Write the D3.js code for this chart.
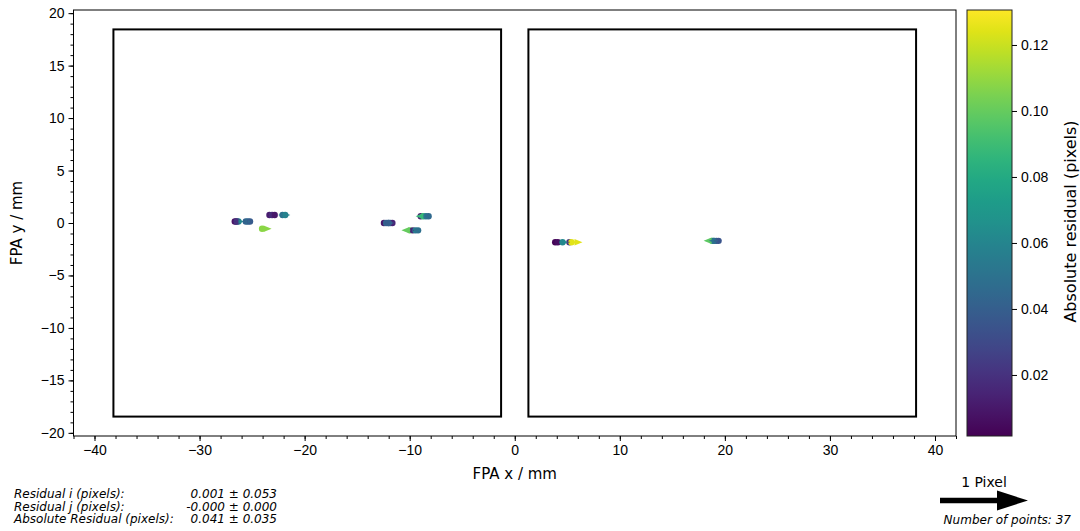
<!DOCTYPE html>
<html>
<head>
<meta charset="utf-8">
<script src="https://cdn.jsdelivr.net/npm/d3@7"></script>
<style>
  body { margin: 0; background: #fff; }
  svg { display: block; font-family: 'DejaVu Sans', sans-serif; }
  .axis text { font-size: 14px; fill: #000; }
  .axis path, .axis line { stroke: #000; }
  .stats text { font-size: 12px; font-style: italic; }
</style>
</head>
<body>
<div id="chart"></div>
<script>
;(function() {
  'use strict';

  // FPA positions (mm) and residuals (pixels) of the 37 matched points
  var pointX = [
    -26.65, -26.5, -26.3, -25.6, -25.4, -25.2, -26.45,
    -23.35, -23.1, -22.85, -22.1, -21.85,
    -24.05,
    -12.45, -12.25, -12.05, -11.85, -11.65, -12.0,
    -8.95, -8.7, -8.45, -8.2,
    -9.95, -9.7, -9.45, -9.2,
    3.85, 4.1, 4.55, 5.2, 5.4,
    18.8, 19.0, 19.2, 19.4, 18.9
  ];
  var pointY = [
    0.14, 0.14, 0.14, 0.14, 0.14, 0.14, 0.14,
    0.76, 0.76, 0.76, 0.76, 0.76,
    -0.55,
    0.0, 0.0, 0.0, 0.0, 0.0, 0.0,
    0.65, 0.65, 0.65, 0.65,
    -0.7, -0.7, -0.7, -0.7,
    -1.83, -1.83, -1.83, -1.83, -1.83,
    -1.7, -1.7, -1.7, -1.7, -1.7
  ];
  var residI = [
    0.008, -0.012, 0.062, -0.042, 0.045, 0.038, -0.02,
    0.012, -0.018, 0.01, -0.05, 0.058,
    0.108,
    -0.01, 0.042, -0.038, 0.045, 0.015, 0.04,
    0.012, -0.088, 0.052, -0.045,
    -0.1, 0.015, 0.055, -0.048,
    0.003, -0.006, 0.062, -0.02, 0.125,
    -0.098, 0.045, -0.04, 0.035, -0.05
  ];
  var residJ = pointX.map(function() { return 0; });

  // detector outlines (mm)
  var chipX0 = [-38.2, 1.3];
  var chipX1 = [-1.3, 38.2];
  var chipY0 = [-18.45, -18.45];
  var chipY1 = [18.45, 18.45];

  var xTicks = [-40, -30, -20, -10, 0, 10, 20, 30, 40];
  var yTicks = [-20, -15, -10, -5, 0, 5, 10, 15, 20];
  var cbTicks = [0.02, 0.04, 0.06, 0.08, 0.10, 0.12];

  var statLabels = ['Residual i (pixels):', 'Residual j (pixels):', 'Absolute Residual (pixels):'];
  var statValues = ['0.001 \u00b1 0.053', '-0.000 \u00b1 0.000', '0.041 \u00b1 0.035'];
  var pointCount = 37;

  var W = 1080, H = 531;
  var plot = { left: 73.5, right: 956, top: 10, bottom: 436 };
  var cb = { left: 967, right: 1012, top: 10, bottom: 436 };
  var pxPerResid = 88; // length of the "1 Pixel" key arrow

  var svg = d3.select('#chart').append('svg')
    .attr('width', W)
    .attr('height', H);

  var x = d3.scaleLinear().domain([-42, 42]).range([plot.left, plot.right]);
  var y = d3.scaleLinear().domain([-20.3, 20.3]).range([plot.bottom, plot.top]);
  var cDomain = [0.0015, 0.1306];
  var color = d3.scaleSequential(d3.interpolateViridis).domain(cDomain);
  var cy = d3.scaleLinear().domain(cDomain).range([cb.bottom, cb.top]);

  /* ------- AXES ------- */
  var xMinor = d3.range(-42, 43, 2);
  var yMinor = d3.range(-20, 21, 1);

  svg.append('g')
    .attr('class', 'axis')
    .attr('transform', 'translate(0,' + plot.bottom + ')')
    .call(d3.axisBottom(x).tickValues(xMinor).tickSize(3).tickFormat(''))
    .call(function(g) { g.select('.domain').remove(); });
  svg.append('g')
    .attr('class', 'axis')
    .attr('transform', 'translate(0,' + plot.bottom + ')')
    .call(d3.axisBottom(x).tickValues(xTicks).tickSize(5).tickPadding(4))
    .call(function(g) { g.select('.domain').remove(); });

  svg.append('g')
    .attr('class', 'axis')
    .attr('transform', 'translate(' + plot.left + ',0)')
    .call(d3.axisLeft(y).tickValues(yMinor).tickSize(3).tickFormat(''))
    .call(function(g) { g.select('.domain').remove(); });
  svg.append('g')
    .attr('class', 'axis')
    .attr('transform', 'translate(' + plot.left + ',0)')
    .call(d3.axisLeft(y).tickValues(yTicks).tickSize(5).tickPadding(4))
    .call(function(g) { g.select('.domain').remove(); });

  svg.append('rect')
    .attr('x', plot.left).attr('y', plot.top)
    .attr('width', plot.right - plot.left)
    .attr('height', plot.bottom - plot.top)
    .attr('fill', 'none')
    .attr('stroke', '#000')
    .attr('stroke-width', 1);

  svg.append('text')
    .attr('x', (plot.left + plot.right) / 2)
    .attr('y', 479)
    .attr('text-anchor', 'middle')
    .style('font-size', '15px')
    .text('FPA x / mm');

  svg.append('text')
    .attr('transform', 'translate(22,' + (plot.top + plot.bottom) / 2 + ') rotate(-90)')
    .attr('text-anchor', 'middle')
    .style('font-size', '15px')
    .text('FPA y / mm');

  /* ------- CHIP OUTLINES ------- */
  svg.append('g').selectAll('rect')
    .data(chipX0)
    .enter().append('rect')
    .attr('x', function(d, i) { return x(chipX0[i]); })
    .attr('y', function(d, i) { return y(chipY1[i]); })
    .attr('width', function(d, i) { return x(chipX1[i]) - x(chipX0[i]); })
    .attr('height', function(d, i) { return y(chipY0[i]) - y(chipY1[i]); })
    .attr('fill', 'none')
    .attr('stroke', '#000')
    .attr('stroke-width', 2);

  /* ------- POINTS + RESIDUAL ARROWS ------- */
  var pts = pointX.map(function(px, i) {
    return {
      x: px, y: pointY[i], di: residI[i], dj: residJ[i],
      abs: Math.sqrt(residI[i] * residI[i] + residJ[i] * residJ[i])
    };
  });

  svg.append('g').selectAll('circle')
    .data(pts)
    .enter().append('circle')
    .attr('cx', function(d) { return x(d.x); })
    .attr('cy', function(d) { return y(d.y); })
    .attr('r', 3.2)
    .attr('fill', function(d) { return color(d.abs); });

  // arrow polygon along +x, tail at origin
  function arrowPath(len, shaftW, headW, headL) {
    if (len <= 0) return '';
    if (len < headL) {
      var k = len / headL;
      shaftW *= k; headW *= k; headL = len;
    }
    var s = shaftW / 2, h = headW / 2, b = len - headL;
    return 'M0,' + (-s) + 'L' + b + ',' + (-s) + 'L' + b + ',' + (-h) +
      'L' + len + ',0L' + b + ',' + h + 'L' + b + ',' + s + 'L0,' + s + 'Z';
  }

  svg.append('g').selectAll('path')
    .data(pts)
    .enter().append('path')
    .attr('d', function(d) { return arrowPath(d.abs * pxPerResid, 2, 6.5, 8); })
    .attr('transform', function(d) {
      var ang = Math.atan2(-d.dj, d.di) * 180 / Math.PI;
      return 'translate(' + x(d.x) + ',' + y(d.y) + ') rotate(' + ang + ')';
    })
    .attr('fill', function(d) { return color(d.abs); });

  /* ------- COLORBAR ------- */
  var grad = svg.append('defs').append('linearGradient')
    .attr('id', 'viridis')
    .attr('x1', 0).attr('y1', 1).attr('x2', 0).attr('y2', 0);
  grad.selectAll('stop')
    .data(d3.range(0, 1.0001, 0.05))
    .enter().append('stop')
    .attr('offset', function(d) { return d; })
    .attr('stop-color', function(d) { return d3.interpolateViridis(d); });

  svg.append('rect')
    .attr('x', cb.left).attr('y', cb.top)
    .attr('width', cb.right - cb.left)
    .attr('height', cb.bottom - cb.top)
    .attr('fill', 'url(#viridis)')
    .attr('stroke', '#222')
    .attr('stroke-width', 1);

  svg.append('g')
    .attr('class', 'axis')
    .attr('transform', 'translate(' + cb.right + ',0)')
    .call(d3.axisRight(cy).tickValues(cbTicks).tickSize(5).tickPadding(4).tickFormat(d3.format('.2f')))
    .call(function(g) { g.select('.domain').remove(); });

  svg.append('text')
    .attr('transform', 'translate(1076,221.5) rotate(-90)')
    .attr('text-anchor', 'middle')
    .style('font-size', '16px')
    .text('Absolute residual (pixels)');

  /* ------- STATS + KEY ------- */
  var stats = svg.append('g').attr('class', 'stats');
  stats.selectAll('text.lbl')
    .data(statLabels)
    .enter().append('text')
    .attr('class', 'lbl')
    .attr('x', 14)
    .attr('y', function(d, i) { return 498 + i * 12.7; })
    .text(function(d) { return d; });
  stats.selectAll('text.val')
    .data(statValues)
    .enter().append('text')
    .attr('class', 'val')
    .attr('x', 277)
    .attr('y', function(d, i) { return 498 + i * 12.7; })
    .attr('text-anchor', 'end')
    .text(function(d) { return d; });
  stats.append('text')
    .attr('x', 1071)
    .attr('y', 524)
    .attr('text-anchor', 'end')
    .text('Number of points: ' + pointCount);

  svg.append('path')
    .attr('d', arrowPath(pxPerResid, 5.7, 20, 31))
    .attr('transform', 'translate(940,500.5)')
    .attr('fill', '#000');

  svg.append('text')
    .attr('x', 984)
    .attr('y', 487)
    .attr('text-anchor', 'middle')
    .style('font-size', '14px')
    .text('1 Pixel');
})();
</script>
</body>
</html>
